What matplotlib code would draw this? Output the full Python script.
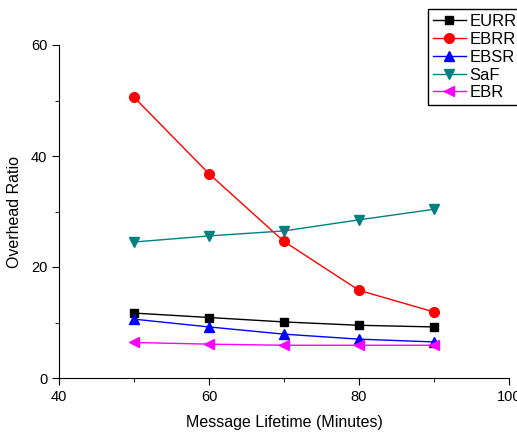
import matplotlib.pyplot as plt
from matplotlib.ticker import MultipleLocator

plt.rcParams['font.family'] = ['Liberation Sans', 'DejaVu Sans']

x = [50, 60, 70, 80, 90]
eurr = [11.7, 10.9, 10.1, 9.5, 9.2]
ebrr = [50.6, 36.8, 24.6, 15.8, 11.9]
ebsr = [10.6, 9.2, 7.9, 7.0, 6.5]
saf = [24.5, 25.6, 26.5, 28.5, 30.4]
ebr = [6.4, 6.1, 5.9, 5.9, 5.9]

fig = plt.figure(figsize=(5.17, 4.32), dpi=100)
ax = fig.add_axes([59/517, 1-378/432, 450/517, 333/432])

ax.plot(x, eurr, color='black', marker='s', ms=6, lw=1, label='EURR')
ax.plot(x, ebrr, color='red', marker='o', ms=7, lw=1, label='EBRR')
ax.plot(x, ebsr, color='blue', marker='^', ms=7, lw=1, label='EBSR')
ax.plot(x, saf, color='#008080', marker='v', ms=7, lw=1, label='SaF')
ax.plot(x, ebr, color='magenta', marker='<', ms=7, lw=1, label='EBR')

ax.set_xlim(40, 100)
ax.set_ylim(0, 60)
ax.xaxis.set_major_locator(MultipleLocator(20))
ax.xaxis.set_minor_locator(MultipleLocator(10))
ax.yaxis.set_major_locator(MultipleLocator(20))
ax.yaxis.set_minor_locator(MultipleLocator(10))
ax.spines['top'].set_visible(False)
ax.spines['right'].set_visible(False)
ax.tick_params(which='major', direction='out', length=5, labelsize=10.5)
ax.tick_params(which='minor', direction='out', length=3)
ax.set_xlabel('Message Lifetime (Minutes)', fontsize=11.5, labelpad=8)
ax.set_ylabel('Overhead Ratio', fontsize=11.5, labelpad=6)

leg = fig.legend(loc='upper left', bbox_to_anchor=(428/517, 1-9/432), fontsize=12,
                 fancybox=False, edgecolor='black', framealpha=1,
                 handlelength=1.95, handletextpad=0.25, borderpad=0.3,
                 labelspacing=0.17, borderaxespad=0)
leg.get_frame().set_linewidth(1)

fig.savefig('out.png', dpi=100)
